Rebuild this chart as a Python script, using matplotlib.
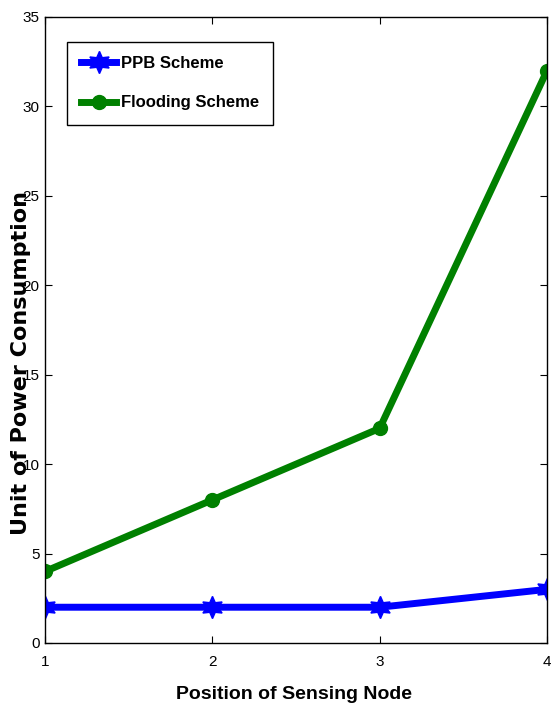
import matplotlib.pyplot as plt

# --- data ---
positions = [1, 2, 3, 4]
ppb = [2, 2, 2, 3]
flooding = [4, 8, 12, 32]
yticks = [0, 5, 10, 15, 20, 25, 30, 35]

narrow = ["Liberation Sans Narrow", "Liberation Sans", "DejaVu Sans"]

fig = plt.figure(figsize=(5.51, 7.10), dpi=100)
ax = fig.add_axes([45 / 551, 67 / 710, 502 / 551, 626 / 710])

hexagram = (6, 1, 0)
ax.plot(positions, ppb, color=(0, 0, 1), lw=5, marker=hexagram, ms=16,
        label="PPB Scheme")
ax.plot(positions, flooding, color=(0, 0.5, 0), lw=5, marker="o", ms=10,
        label="Flooding Scheme")

ax.set_xlim(1, 4)
ax.set_ylim(0, 35)
ax.set_xticks(positions)
ax.set_yticks(yticks)
ax.tick_params(direction="in", length=5, width=0.8, top=True, right=True,
               labelsize=11)
ax.tick_params(axis="x", pad=9)
ax.tick_params(axis="y", pad=4)
for lab in ax.get_xticklabels() + ax.get_yticklabels():
    lab.set_family(narrow)
for s in ax.spines.values():
    s.set_linewidth(1.0)

ax.set_xlabel("Position of Sensing Node", family=narrow, fontsize=14,
              fontweight="bold")
ax.xaxis.set_label_coords(0.496, -0.083)
ax.xaxis.label.set_va("center")

ax.set_ylabel("Unit of Power Consumption", family="DejaVu Sans", fontsize=16,
              fontweight="bold")
ax.yaxis.set_label_coords(-0.048, 0.447)
ax.yaxis.label.set_va("center")

leg = ax.legend(loc="upper left", bbox_to_anchor=(0.0438, 0.960),
                borderaxespad=0, fancybox=False, edgecolor="black",
                framealpha=1, handlelength=2.1, handletextpad=0.3,
                labelspacing=1.45, borderpad=0.85,
                prop={"family": narrow, "size": 12, "weight": "bold"})
leg.get_frame().set_linewidth(1.0)

fig.savefig("out.png", dpi=100)
